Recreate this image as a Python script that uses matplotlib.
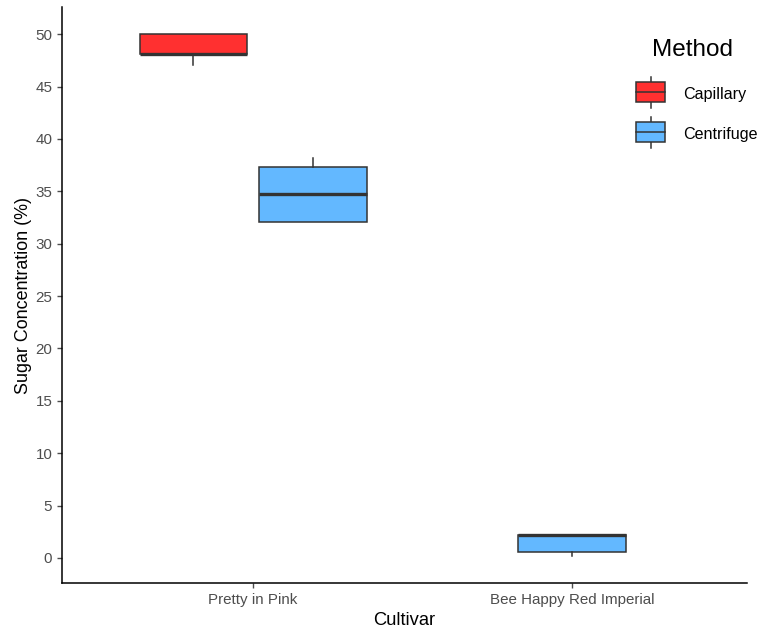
import matplotlib.pyplot as plt
from matplotlib.patches import Rectangle
from matplotlib.lines import Line2D

plt.rcParams['font.family'] = ['Liberation Sans', 'DejaVu Sans']

cultivars = ["Pretty in Pink", "Bee Happy Red Imperial"]
methods = ["Capillary", "Centrifuge"]
colors = {"Capillary": "#FF3030", "Centrifuge": "#63B8FF"}

# box summaries per group
groups = ["Pretty in Pink", "Pretty in Pink", "Bee Happy Red Imperial"]
group_methods = ["Capillary", "Centrifuge", "Centrifuge"]
whislo = [47.1, 32.1, 0.15]
q1 = [48.1, 32.1, 0.6]
med = [48.1, 34.7, 2.2]
q3 = [50.0, 37.3, 2.2]
whishi = [50.0, 38.2, 2.2]

yticks = [0, 5, 10, 15, 20, 25, 30, 35, 40, 45, 50]

edge = "#333333"
dodge = 0.1875
box_w = 0.3375
W, H = 760, 636

fig = plt.figure(figsize=(W / 100, H / 100), dpi=100)
ax = fig.add_axes([62 / W, 53 / H, 685 / W, 576 / H])

for i in range(len(groups)):
    x = cultivars.index(groups[i]) + 1
    # only one method at a cultivar -> box stays centred
    if groups.count(groups[i]) > 1:
        x += -dodge if group_methods[i] == "Capillary" else dodge
    stats = [{"whislo": whislo[i], "q1": q1[i], "med": med[i],
              "q3": q3[i], "whishi": whishi[i], "fliers": []}]
    ax.bxp(stats, positions=[x], widths=box_w, patch_artist=True,
           showfliers=False, showcaps=False,
           boxprops=dict(facecolor=colors[group_methods[i]], edgecolor=edge, linewidth=1.1),
           medianprops=dict(color=edge, linewidth=2.4, solid_capstyle="butt"),
           whiskerprops=dict(color=edge, linewidth=1.1))

ax.set_xlim(0.4, 2.55)
ax.set_ylim(-2.4, 52.6)
ax.set_xticks([1, 2])
ax.set_xticklabels(cultivars)
ax.set_yticks(yticks)
ax.tick_params(axis="both", colors="#4D4D4D", labelsize=10.9, length=3.5, width=1)
for side in ["top", "right"]:
    ax.spines[side].set_visible(False)
for side in ["left", "bottom"]:
    ax.spines[side].set_color("black")
    ax.spines[side].set_linewidth(1.1)

ax.set_xlabel("Cultivar", fontsize=13.2, labelpad=4)
ax.set_ylabel("Sugar Concentration (%)", fontsize=12.9, labelpad=2)


# legend drawn in figure pixels (y measured from the top)
def px(x, y):
    return x / W, 1 - y / H


fig.text(*px(652, 50), "Method", fontsize=17.5, va="center", ha="left")
for k, m in enumerate(methods):
    top = 82 + 39.5 * k
    cx = 650.5
    x0, y0 = px(636, top + 20)
    fig.add_artist(Line2D(*zip(px(cx, top - 5), px(cx, top + 26)),
                          color=edge, lw=1.1, transform=fig.transFigure, zorder=1))
    fig.add_artist(Rectangle((x0, y0), 29 / W, 20 / H, facecolor=colors[m],
                             edgecolor=edge, lw=1.1, transform=fig.transFigure, zorder=2))
    fig.add_artist(Line2D(*zip(px(636, top + 10), px(665, top + 10)),
                          color=edge, lw=1.1, transform=fig.transFigure, zorder=3))
    fig.text(*px(683, top + 12.5), m, fontsize=11.6, va="center", ha="left")

fig.savefig("out.png", dpi=100)
